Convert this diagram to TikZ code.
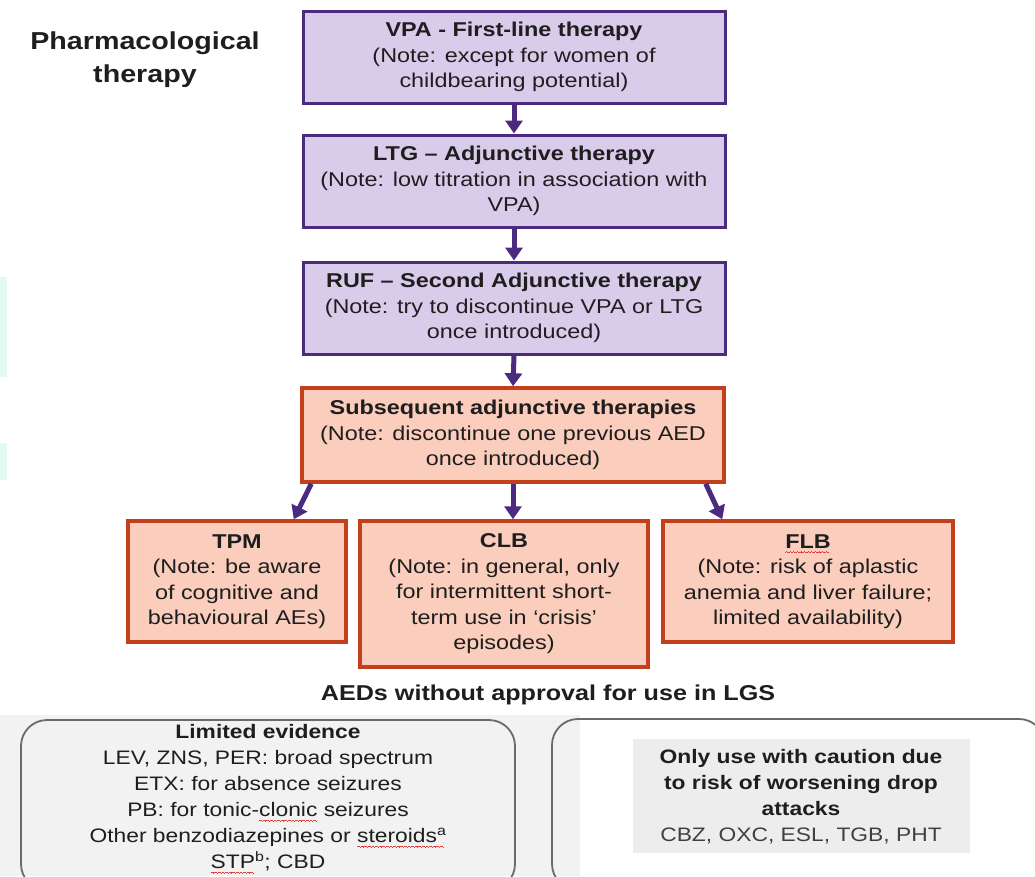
\documentclass[tikz,border=0pt]{standalone}
\usepackage{fontspec}
\setmainfont{Liberation Sans}[FakeStretch=1.17]
\usetikzlibrary{arrows.meta,calc}
\definecolor{purfill}{HTML}{D9CCEB}
\definecolor{purline}{HTML}{4B2B7C}
\definecolor{salfill}{HTML}{FACDBC}
\definecolor{salline}{HTML}{C2401C}
\definecolor{arrcol}{HTML}{4B2A80}
\definecolor{txt}{HTML}{1E1E1E}
\definecolor{bggray}{HTML}{F2F2F2}
\definecolor{boxgray}{HTML}{EDEDED}
\definecolor{rline}{HTML}{6A6A6A}
\definecolor{cyanish}{HTML}{E2FAF2}
\definecolor{squig}{HTML}{E0403A}
\newsavebox\sqbox
\newcommand\wavecell{\rule[-4.6pt]{0.9pt}{0.8pt}\rule[-4.1pt]{0.9pt}{0.8pt}\rule[-4.6pt]{0.9pt}{0.8pt}\rule[-5.1pt]{0.9pt}{0.8pt}}
\newcommand\redsq[1]{\sbox\sqbox{#1}\leavevmode\rlap{\hbox to \wd\sqbox{\color{squig}\leaders\hbox{\wavecell}\hfill}}\usebox\sqbox}
\tikzset{
  purbox/.style={draw=purline, fill=purfill, line width=3pt, minimum width=422, minimum height=92,
    align=center, inner sep=0pt, text=txt, font=\fontsize{20}{25.5}\selectfont},
  salbox/.style={draw=salline, fill=salfill, line width=3.5pt, align=center, inner sep=0pt,
    text=txt, font=\fontsize{20}{25.5}\selectfont},
  arr/.style={draw=arrcol, line width=5pt, -{Triangle[width=17pt,length=13pt]}},
  roundbox/.style={draw=rline, line width=1.8pt, rounded corners=26pt, inner sep=0pt},
  bottomtext/.style={align=center, text=txt, font=\fontsize{19.5}{26}\selectfont, inner sep=0pt},
}
\begin{document}
\begin{tikzpicture}[x=1pt,y=-1pt]
\useasboundingbox (0,0) rectangle (1035,876);
\begin{scope}
\clip (0,0) rectangle (1035,876);
% faint left-edge artifacts
\fill[cyanish] (0,277) rectangle (7,377);
\fill[cyanish] (0,443) rectangle (7,480);
% title
\node[align=center, text=txt, font=\bfseries\fontsize{24.5}{33}\selectfont] (title) at (145,60) {Pharmacological\\therapy};
% main chain
\node[purbox] (vpa) at (514,57) {\textbf{VPA - First-line therapy}\\(Note: except for women of\\childbearing potential)};
\node[purbox] (ltg) at (514,181) {\textbf{LTG -- Adjunctive therapy}\\(Note: low titration in association with\\VPA)};
\node[purbox] (ruf) at (514,308) {\textbf{RUF -- Second Adjunctive therapy}\\(Note: try to discontinue VPA or LTG\\once introduced)};
\node[salbox, minimum width=422, minimum height=94] (sub) at (513,435) {\textbf{Subsequent adjunctive therapies}\\(Note: discontinue one previous AED\\once introduced)};
\node[salbox, minimum width=218, minimum height=121] (tpm) at (237,581.5) {\textbf{TPM}\\(Note: be aware\\of cognitive and\\behavioural AEs)};
\node[salbox, minimum width=288, minimum height=146] (clb) at (504,594) {\textbf{CLB}\\(Note: in general, only\\for intermittent short-\\term use in ‘crisis’\\episodes)};
\node[salbox, minimum width=290, minimum height=121] (flb) at (808,581.5) {\textbf{\redsq{FLB}}\\(Note: risk of aplastic\\anemia and liver failure;\\limited availability)};
% arrows
\draw[arr] (vpa.south) -- (ltg.north);
\draw[arr] (ltg.south) -- (ruf.north);
\draw[arr] (ruf.south) -- (sub.north);
\draw[arr] ([xshift=11pt]sub.south west) -- ([xshift=-54pt]tpm.north east);
\draw[arr] (sub.south) -- (sub.south |- clb.north);
\draw[arr] ([xshift=-20pt]sub.south east) -- ([xshift=61pt]flb.north west);
% bottom section
\node[text=txt, font=\bfseries\fontsize{21.5}{26}\selectfont, inner sep=0pt] (aeds) at (548,695) {AEDs without approval for use in LGS};
\fill[bggray] (0,715) rectangle (580,876);
\node[roundbox, minimum width=494, minimum height=170] (limbox) at (268,805) {};
\node[roundbox, minimum width=493, minimum height=171] (caubox) at (798.5,804.5) {};
\fill[boxgray] (633,739) rectangle (970,853);
\node[bottomtext] (limtext) at (268,799) {\textbf{Limited evidence}\\LEV, ZNS, PER: broad spectrum\\ETX: for absence seizures\\PB: for tonic-\redsq{clonic} seizures\\Other benzodiazepines or \redsq{steroids\textsuperscript{a}}\\\redsq{STP}\textsuperscript{b}; CBD};
\node[bottomtext] (cautext) at (801,797) {\textbf{Only use with caution due}\\\textbf{to risk of worsening drop}\\\textbf{attacks}\\{\color{txt!85}CBZ, OXC, ESL, TGB, PHT}};
\end{scope}
\end{tikzpicture}
\end{document}
